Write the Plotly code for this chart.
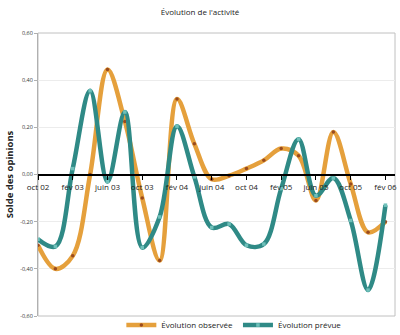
import plotly.graph_objects as go

periods = ["oct 02", "déc 02", "fév 03", "avr 03", "juin 03", "août 03", "oct 03", "déc 03",
           "fév 04", "avr 04", "juin 04", "août 04", "oct 04", "déc 04", "fév 05", "avr 05",
           "juin 05", "août 05", "oct 05", "déc 05", "fév 06"]
observee = [-0.30, -0.40, -0.345, 0.00, 0.445, 0.225, -0.10, -0.365, 0.32, 0.13, -0.02, -0.005,
            0.025, 0.06, 0.11, 0.08, -0.11, 0.18, -0.04, -0.245, -0.20]
prevue = [-0.275, -0.305, 0.025, 0.355, -0.03, 0.265, -0.31, -0.18, 0.205, -0.01, -0.225, -0.21,
          -0.30, -0.295, -0.06, 0.15, -0.09, -0.015, -0.195, -0.49, -0.13]
y_ticks = [-0.6, -0.4, -0.2, 0.0, 0.2, 0.4, 0.6]
y_ticktext = ["-0,60", "-0,40", "-0,20", "0,00", "0,20", "0,40", "0,60"]

xs = list(range(len(periods)))
font = "Open Sans"

fig = go.Figure()
fig.add_trace(go.Scatter(
    x=xs, y=observee, name="Évolution observée", mode="lines+markers",
    line=dict(color="#E5A03C", width=4.5, shape="spline", smoothing=1.0),
    marker=dict(color="#9A4A1E", size=3.5, symbol="circle"),
))
fig.add_trace(go.Scatter(
    x=xs, y=prevue, name="Évolution prévue", mode="lines+markers",
    line=dict(color="#2F8A86", width=4.5, shape="spline", smoothing=1.0),
    marker=dict(color="#6FC0BA", size=3.5, symbol="square"),
))

fig.update_layout(
    width=400, height=335,
    margin=dict(l=38, r=5, t=33, b=19, autoexpand=False),
    paper_bgcolor="white", plot_bgcolor="white",
    font=dict(family=font, color="#222"),
    title=dict(text="Évolution de l'activité", x=0.5, xanchor="center", y=0.965, yanchor="middle",
               font=dict(size=8, family=font, color="#222")),
    showlegend=True,
    legend=dict(orientation="h", x=0.55, xanchor="center", y=-0.032, yanchor="middle",
                font=dict(size=8, family=font, color="#222"), itemwidth=30,
                bgcolor="rgba(0,0,0,0)"),
    xaxis=dict(range=[0, 20.55], anchor="free", position=0.5,
               tickmode="array", tickvals=xs[::2], ticktext=periods[::2],
               showline=True, linecolor="black", linewidth=1.5,
               ticks="outside", ticklen=5, tickcolor="black",
               showgrid=False, zeroline=False,
               tickfont=dict(size=8, family=font, color="#222")),
    yaxis=dict(range=[-0.6, 0.6], tickmode="array", tickvals=y_ticks, ticktext=y_ticktext,
               showline=True, linecolor="#b0b0b0", linewidth=1,
               ticks="outside", ticklen=3, tickcolor="#b0b0b0",
               showgrid=True, gridcolor="#ececec", gridwidth=1, zeroline=False,
               tickfont=dict(size=5.5, family=font, color="#333"),
               title=dict(text="<b>Solde des opinions</b>", standoff=4,
                          font=dict(size=9.5, family=font, color="#222"))),
    shapes=[dict(type="rect", xref="paper", yref="paper", x0=0, x1=1, y0=0, y1=1,
                 line=dict(color="#c0c0c0", width=1), layer="below")],
)

fig.write_html("out.html")
